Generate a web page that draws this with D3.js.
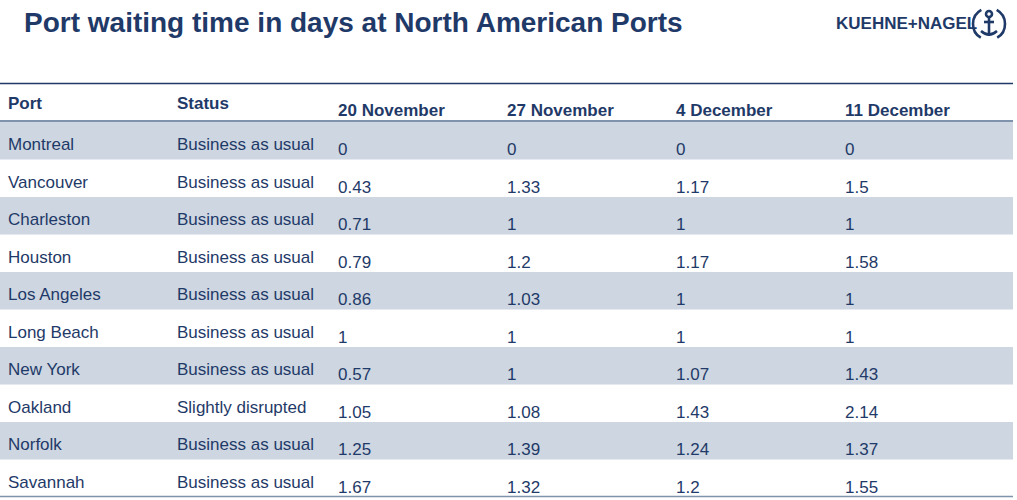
<!DOCTYPE html><html><head><meta charset="utf-8">
<script src="https://cdn.jsdelivr.net/npm/d3@7"></script>
<style>body{margin:0;background:#fff}svg{display:block}</style></head><body>
<script>
const ports=["Montreal","Vancouver","Charleston","Houston","Los Angeles","Long Beach","New York","Oakland","Norfolk","Savannah"];
const statuses=["Business as usual","Business as usual","Business as usual","Business as usual","Business as usual","Business as usual","Business as usual","Slightly disrupted","Business as usual","Business as usual"];
const dates=["20 November","27 November","4 December","11 December"];
const nov20=["0","0.43","0.71","0.79","0.86","1","0.57","1.05","1.25","1.67"];
const nov27=["0","1.33","1","1.2","1.03","1","1","1.08","1.39","1.32"];
const dec4=["0","1.17","1","1.17","1","1","1.07","1.43","1.24","1.2"];
const dec11=["0","1.5","1","1.58","1","1","1.43","2.14","1.37","1.55"];
const cols=[nov20,nov27,dec4,dec11];

const W=1017,H=500,navy="#1f3a68",F="'Liberation Sans Narrow','Arial Narrow','Liberation Sans',sans-serif";
const svg=d3.select("body").append("svg").attr("width",W).attr("height",H).style("font-family",F);
svg.append("text").attr("x",24).attr("y",32).attr("fill",navy).attr("font-size",28).attr("font-weight","bold").attr("font-family","'Liberation Sans Narrow','Liberation Sans',sans-serif").text("Port waiting time in days at North American Ports");
// logo
svg.append("text").attr("x",836).attr("y",29).attr("fill",navy).attr("font-size",17).attr("font-weight","bold").attr("font-family","'Liberation Sans','Arial',sans-serif").text("KUEHNE+NAGEL");
const lg=svg.append("g").attr("transform","translate(989,24)").attr("stroke",navy).attr("fill","none").attr("stroke-width",2.6);
const arc=d3.arc().innerRadius(17).outerRadius(17);
lg.append("path").attr("d",d3.arc()({innerRadius:16,outerRadius:16,startAngle:-2.6,endAngle:-0.5}));
lg.append("path").attr("d",d3.arc()({innerRadius:16,outerRadius:16,startAngle:0.5,endAngle:2.6}));
lg.append("circle").attr("cy",-10).attr("r",3);
lg.append("line").attr("y1",-7).attr("y2",12);
lg.append("line").attr("x1",-5).attr("x2",5).attr("y1",-2).attr("y2",-2);
lg.append("path").attr("d","M-8,7 Q0,14 8,7");

const y=d3.scaleBand().domain(d3.range(ports.length)).range([122,497]);
const xs=[8,177,338,507,676,845];
svg.selectAll("rect.row").data(d3.range(ports.length).filter(i=>i%2==0)).join("rect")
 .attr("x",0).attr("width",1013).attr("y",i=>y(i)).attr("height",y.bandwidth()).attr("fill","#cdd6e1");
svg.append("line").attr("x1",0).attr("x2",1013).attr("y1",83.5).attr("y2",83.5).attr("stroke",navy).attr("stroke-width",1.3);
svg.append("line").attr("x1",0).attr("x2",1013).attr("y1",121).attr("y2",121).attr("stroke","#7f93ad").attr("stroke-width",2);
svg.append("line").attr("x1",0).attr("x2",1013).attr("y1",496.5).attr("y2",496.5).attr("stroke","#7f93ad").attr("stroke-width",1.3);
const hdr=svg.append("g").attr("fill",navy).attr("font-weight","bold").attr("font-size",17);
hdr.append("text").attr("x",xs[0]).attr("y",109).text("Port");
hdr.append("text").attr("x",xs[1]).attr("y",109).text("Status");
dates.forEach((d,j)=>hdr.append("text").attr("x",xs[j+2]).attr("y",116).text(d));
const body=svg.append("g").attr("fill",navy).attr("font-size",17);
ports.forEach((p,i)=>{
 const t=y(i);
 body.append("text").attr("x",xs[0]).attr("y",t+28).text(p);
 body.append("text").attr("x",xs[1]).attr("y",t+28).text(statuses[i]);
 cols.forEach((c,j)=>body.append("text").attr("x",xs[j+2]).attr("y",t+33).text(c[i]));
});
</script></body></html>
